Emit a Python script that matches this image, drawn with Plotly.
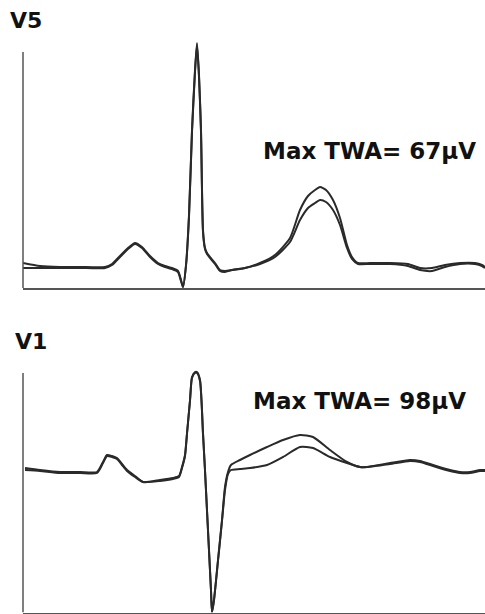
import plotly.graph_objects as go

# ---- Lead V5 (time in ms, amplitude in microvolts) ----
v5_time = [0, 34, 74, 114, 164, 178, 194, 210, 224, 238,
           254, 270, 284, 298, 310, 316, 320, 326, 332, 338,
           344, 348, 352, 356, 360, 364, 368, 374, 384, 394,
           404, 418, 444, 474, 504, 534, 554, 570, 584, 594,
           606, 620, 634, 648, 658, 670, 694, 734, 770, 794,
           818, 844, 874, 904, 918, 924]
v5_beat_a = [25, 10, 5, 5, 5, 20, 60, 100, 125, 105,
             60, 25, 10, 0, -15, -60, -95, 15, 265, 690,
             990, 1125, 965, 690, 190, 100, 75, 55, 25, -10,
             -15, -10, 0, 25, 65, 150, 290, 360, 390, 405,
             390, 340, 250, 115, 55, 25, 25, 25, 20, 0,
             0, 15, 25, 25, 15, 5]
v5_beat_b = [0, 0, 0, 0, 0, 15, 55, 95, 120, 100,
             55, 20, 5, -5, -20, -65, -95, 10, 255, 680,
             980, 1115, 955, 680, 180, 95, 70, 50, 20, -15,
             -20, -10, 0, 20, 55, 130, 240, 300, 325, 340,
             330, 290, 215, 100, 45, 20, 20, 20, 10, -10,
             -15, 5, 20, 20, 10, 0]

# ---- Lead V1 ----
v1_time = [4, 34, 74, 114, 148, 160, 168, 178, 188, 198,
           208, 224, 240, 274, 300, 312, 318, 324, 328, 334,
           338, 344, 348, 354, 360, 364, 368, 372, 376, 378,
           382, 390, 398, 404, 410, 416, 434, 454, 488, 520,
           554, 580, 614, 648, 674, 688, 734, 774, 794, 820,
           854, 874, 894, 914, 924]
v1_beat_a = [16, 0, -16, -16, -16, 64, 120, 112, 96, 48,
             0, -48, -96, -80, -64, -48, 24, 120, 296, 560,
             744, 784, 784, 720, 296, 0, -320, -640, -960, -1136,
             -1040, -720, -400, -136, -16, 40, 80, 120, 184, 240,
             280, 264, 160, 64, 24, 24, 56, 80, 72, 40,
             0, -16, -16, 0, 0]
v1_beat_b = [0, -8, -24, -24, -24, 56, 112, 104, 88, 40,
             -8, -56, -96, -88, -72, -56, 16, 112, 288, 552,
             736, 776, 776, 712, 288, -8, -328, -648, -968, -1136,
             -1040, -728, -408, -160, -32, 0, 8, 16, 40, 104,
             184, 176, 104, 56, 24, 24, 48, 72, 64, 32,
             -8, -24, -24, -8, -8]

lead_labels = ["V5", "V1"]
twa_labels = ["Max TWA= 67\u03bcV", "Max TWA= 98\u03bcV"]

W, H = 485, 614
trace_color = "#2a2a2a"
axis_color = "#555555"

fig = go.Figure()
for xs, ys, xa, ya in [(v5_time, v5_beat_a, "x", "y"), (v5_time, v5_beat_b, "x", "y"),
                       (v1_time, v1_beat_a, "x2", "y2"), (v1_time, v1_beat_b, "x2", "y2")]:
    fig.add_trace(go.Scatter(x=xs, y=ys, xaxis=xa, yaxis=ya, mode="lines",
                             line=dict(color=trace_color, width=2, shape="spline", smoothing=0.6),
                             hoverinfo="skip", showlegend=False))

xdom = [23 / W, 1.0]
common_x = dict(range=[0, 924], domain=xdom, showgrid=False, zeroline=False,
                showticklabels=False, ticks="", showline=True,
                linecolor=axis_color, linewidth=2)
common_y = dict(showgrid=False, zeroline=False, showticklabels=False,
                ticks="", showline=False)

fig.update_layout(
    width=W, height=H, margin=dict(l=0, r=0, t=0, b=0),
    paper_bgcolor="white", plot_bgcolor="white",
    xaxis=dict(common_x, anchor="y"),
    xaxis2=dict(common_x, anchor="y2"),
    yaxis=dict(common_y, range=[-100, 1135], anchor="x",
               domain=[(H - 288) / H, (H - 41) / H]),
    yaxis2=dict(common_y, range=[-1140, 800], anchor="x2",
                domain=[(H - 612.5) / H, (H - 370) / H]),
)

# vertical axis lines
fig.add_shape(type="line", xref="x domain", yref="y", x0=0, x1=0, y0=-100, y1=1080,
              line=dict(color=axis_color, width=1.5))
fig.add_shape(type="line", xref="x2 domain", yref="y2", x0=0, x1=0, y0=-1140, y1=776,
              line=dict(color=axis_color, width=1.5))

font_lead = dict(family="DejaVu Sans", size=22, color="#111111")
font_twa = dict(family="DejaVu Sans", size=23, color="#111111")

fig.add_annotation(text="<b>%s</b>" % lead_labels[0], xref="paper", yref="paper",
                   x=8 / W, y=1 - 20 / H, xanchor="left", yanchor="middle",
                   showarrow=False, font=font_lead)
fig.add_annotation(text="<b>%s</b>" % twa_labels[0], xref="paper", yref="paper",
                   x=261 / W, y=1 - 151 / H, xanchor="left", yanchor="middle",
                   showarrow=False, font=font_twa)
fig.add_annotation(text="<b>%s</b>" % lead_labels[1], xref="paper", yref="paper",
                   x=13 / W, y=1 - 341 / H, xanchor="left", yanchor="middle",
                   showarrow=False, font=font_lead)
fig.add_annotation(text="<b>%s</b>" % twa_labels[1], xref="paper", yref="paper",
                   x=251 / W, y=1 - 401 / H, xanchor="left", yanchor="middle",
                   showarrow=False, font=font_twa)

fig.write_html("out.html", config={"displayModeBar": False},
               post_script="document.body.style.margin='0';")
